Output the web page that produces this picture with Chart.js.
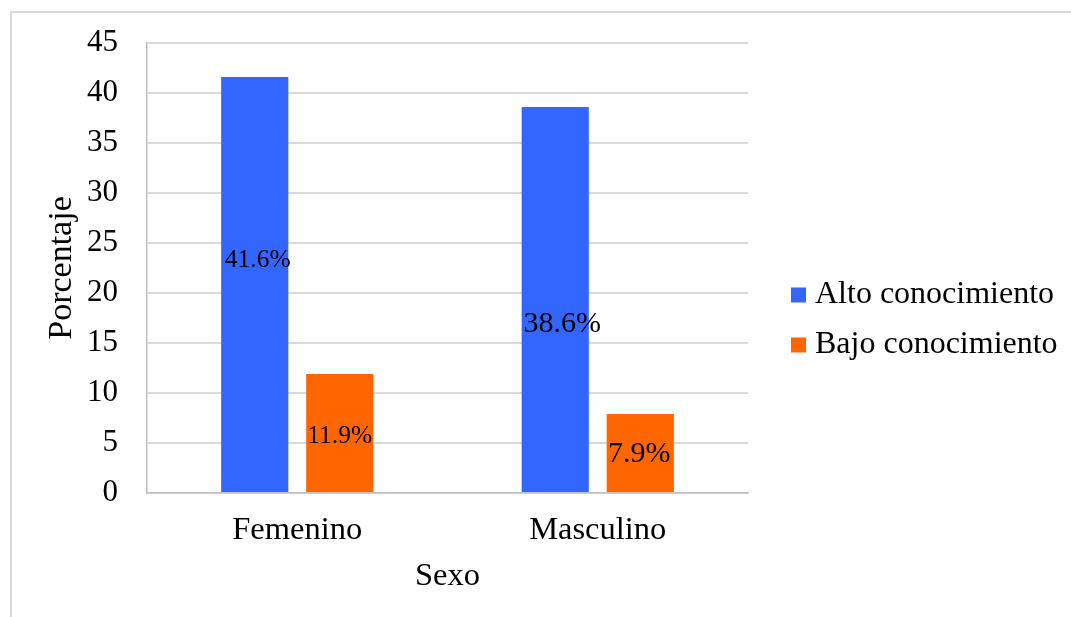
<!DOCTYPE html>
<html>
<head>
<meta charset="utf-8">
<script src="https://cdn.jsdelivr.net/npm/chart.js@4/dist/chart.umd.min.js"></script>
<style>
  html, body { margin: 0; padding: 0; background: #fff; }
  #wrap { width: 1071px; height: 617px; }
</style>
</head>
<body>
<div id="wrap"><canvas id="chart" width="1071" height="617"></canvas></div>
<script>
// Categories, series and tick values
const categories = ['Femenino', 'Masculino'];
const seriesNames = ['Alto conocimiento', 'Bajo conocimiento'];
const altoValues = [41.6, 38.6];
const bajoValues = [11.9, 7.9];
const yTickValues = [0, 5, 10, 15, 20, 25, 30, 35, 40, 45];
const axisTitles = { x: 'Sexo', y: 'Porcentaje' };

const SERIF = '"Liberation Serif", "Times New Roman", serif';
const BLUE = '#3366ff';
const ORANGE = '#ff6600';

// Light frame around the whole chart
const framePlugin = {
  id: 'frame',
  beforeDraw(chart) {
    const ctx = chart.ctx;
    ctx.save();
    ctx.fillStyle = '#ffffff';
    ctx.fillRect(0, 0, chart.width, chart.height);
    ctx.strokeStyle = '#d9d9d9';
    ctx.lineWidth = 2;
    ctx.strokeRect(11, 12, chart.width + 40, chart.height + 40);
    ctx.restore();
  }
};

// Percentage labels inside each bar
const barLabelPlugin = {
  id: 'barLabels',
  afterDatasetsDraw(chart, args, opts) {
    const ctx = chart.ctx;
    const yScale = chart.scales.y;
    ctx.save();
    ctx.fillStyle = '#000';
    ctx.textAlign = 'center';
    ctx.textBaseline = 'middle';
    chart.data.datasets.forEach((ds, di) => {
      const meta = chart.getDatasetMeta(di);
      meta.data.forEach((bar, ci) => {
        const v = ds.data[ci];
        const frac = opts.anchor[di][ci];
        ctx.font = opts.size[ci] + 'px ' + SERIF;
        const y = yScale.getPixelForValue(v * frac);
        ctx.fillText(v.toFixed(1) + '%', bar.x + opts.dx[di][ci], y);
      });
    });
    ctx.restore();
  }
};

// Legend at the right of the plot
const sideLegendPlugin = {
  id: 'sideLegend',
  afterDraw(chart, args, opts) {
    const ctx = chart.ctx;
    const area = chart.chartArea;
    ctx.save();
    ctx.font = opts.fontSize + 'px ' + SERIF;
    ctx.textBaseline = 'middle';
    ctx.textAlign = 'left';
    chart.data.datasets.forEach((ds, i) => {
      const cy = opts.top + i * opts.spacing;
      const x = area.right + opts.gap;
      ctx.fillStyle = ds.backgroundColor;
      ctx.fillRect(x, cy - opts.box / 2, opts.box, opts.box);
      ctx.fillStyle = '#000';
      ctx.fillText(ds.label, x + opts.box + 9, cy);
    });
    ctx.restore();
  }
};

new Chart(document.getElementById('chart'), {
  type: 'bar',
  data: {
    labels: categories,
    datasets: [
      { label: seriesNames[0], data: altoValues, backgroundColor: BLUE },
      { label: seriesNames[1], data: bajoValues, backgroundColor: ORANGE }
    ]
  },
  options: {
    responsive: false,
    animation: false,
    devicePixelRatio: 1,
    categoryPercentage: 0.566,
    barPercentage: 0.79,
    layout: { padding: { left: 40, top: 43, right: 323, bottom: 0 } },
    plugins: {
      legend: { display: false },
      tooltip: { enabled: false },
      barLabels: {
        anchor: [[0.56, 0.438], [0.479, 0.494]],
        dx: [[3, 7], [0, -1]],
        size: [25.5, 30]
      },
      sideLegend: { top: 295, spacing: 50, gap: 43, box: 15, fontSize: 32 }
    },
    scales: {
      x: {
        grid: { display: false, drawTicks: false },
        border: { display: true, color: '#bfbfbf', width: 1.5 },
        ticks: { color: '#000', font: { family: SERIF, size: 32.5 }, padding: 18 },
        title: { display: true, text: axisTitles.x, color: '#000', font: { family: SERIF, size: 32.5 }, padding: { top: 0, bottom: 21 } },
        afterFit(scale) { scale.height = 124; scale.paddingLeft = 0; scale.paddingRight = 0; }
      },
      y: {
        min: 0,
        max: 45,
        afterBuildTicks(scale) { scale.ticks = yTickValues.map(v => ({ value: v })); },
        grid: { color: '#d9d9d9', lineWidth: 2, drawTicks: false },
        border: { display: true, color: '#bfbfbf', width: 1.5 },
        ticks: { color: '#000', font: { family: SERIF, size: 31 }, padding: 29 },
        title: { display: true, text: axisTitles.y, color: '#000', font: { family: SERIF, size: 34 }, padding: { top: 2, bottom: 0 } },
        afterFit(scale) { scale.width = 107; scale.paddingTop = 0; scale.paddingBottom = 0; }
      }
    }
  },
  plugins: [framePlugin, barLabelPlugin, sideLegendPlugin]
});
</script>
</body>
</html>
